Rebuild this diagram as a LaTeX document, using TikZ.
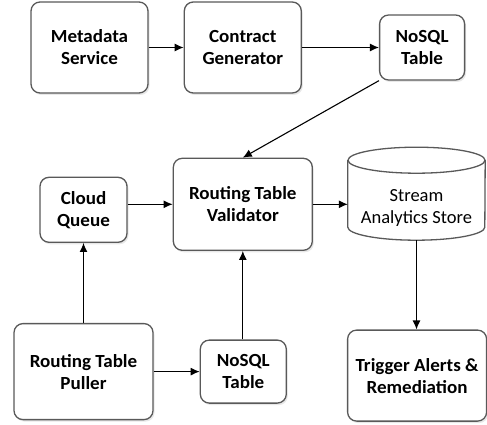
\documentclass[tikz,border=0pt]{standalone}
\usepackage{fontspec}
\setmainfont{Carlito}
\newfontfamily\boxfont[FakeStretch=1.03]{Carlito}
\usetikzlibrary{positioning,arrows.meta,shadows}
\tikzset{
  block/.style    = {shape=rectangle, rounded corners=9pt,
          draw=black!65, line width=1.3pt, fill=white, align=center,
        font=\boxfont\bfseries\fontsize{18.5}{22}\selectfont,
        drop shadow={opacity=0.18, shadow xshift=1.5pt, shadow yshift=-2pt}},
  bigbox/.style   = {block, minimum width=139pt, minimum height=92pt},
  smallbox/.style = {block, minimum width=86pt, minimum height=65pt},
  store/.style    = {align=center, font=\fontsize{18.5}{22}\selectfont,
          minimum width=137pt, minimum height=64pt, inner sep=0pt},
  cyl/.style      = {draw=black!65, line width=1.3pt},
  link/.style     = {draw, line width=1.1pt, -{Latex[length=9pt,width=8pt]}}
}

\begin{document}
\begin{tikzpicture}[x=1pt, y=-1pt]
  \useasboundingbox (0,0) rectangle (487,425);

  % top row
  \node [bigbox, minimum width=117pt, minimum height=91pt] (meta) at (89.5,47.5) {Metadata\\Service};
  \node [bigbox, minimum width=117pt, minimum height=91pt, right=35pt of meta] (contract) {Contract\\Generator};
  \node [smallbox, minimum width=85pt, right=77pt of contract] (nosqltop) {NoSQL\\Table};

  % middle row
  \node [bigbox, below=64pt of contract] (validator) {Routing Table\\Validator};
  \node [smallbox, minimum width=87pt, left=45pt of validator, yshift=-5.5pt] (queue) {Cloud\\Queue};
  \node [store] (analytics) at (416.5,208) {Stream\\Analytics Store};
  \draw [cyl] ([yshift=80pt]analytics.south west) -- ([yshift=13pt]analytics.south west)
    arc [start angle=180, end angle=360, x radius=68.5pt, y radius=13pt]
    -- ([yshift=80pt]analytics.south east);
  \draw [cyl] ([yshift=80pt]analytics.south) ellipse [x radius=68.5pt, y radius=13pt];

  % bottom row
  \node [bigbox, minimum height=96pt, below=80pt of queue] (puller) {Routing Table\\Puller};
  \node [smallbox, minimum height=63pt, right=46pt of puller] (nosqlbot) {NoSQL\\Table};
  \node [bigbox, minimum height=91pt, right=60pt of nosqlbot, yshift=-4pt] (alerts) {Trigger Alerts \&\\Remediation};

  % connectors
  \draw [link] (meta) -- (contract);
  \draw [link] (contract) -- (nosqltop);
  \draw [link] (nosqltop.south west) -- (validator.north);
  \draw [link] (queue.east |- validator.west) -- (validator.west);
  \draw [link] (validator.east) -- (validator.east -| analytics.west);
  \draw [link] (puller) -- (queue);
  \draw [link] (puller.east |- nosqlbot.west) -- (nosqlbot.west);
  \draw [link] (nosqlbot.north -| validator.south) -- (validator.south);
  \draw [link] (analytics.south) -- (alerts.north -| analytics.south);
\end{tikzpicture}
\end{document}
